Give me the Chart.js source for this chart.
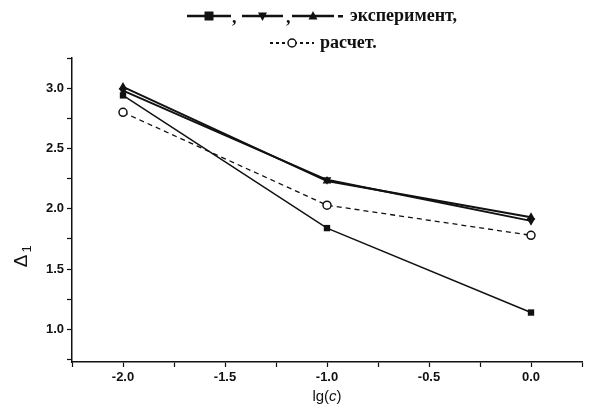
<!DOCTYPE html>
<html>
<head>
<meta charset="utf-8">
<script src="https://cdn.jsdelivr.net/npm/chart.js@4.4.1/dist/chart.umd.min.js"></script>
<style>
  html, body { margin: 0; padding: 0; background: #fff; }
  #wrap { width: 600px; height: 419px; position: relative; }
</style>
</head>
<body>
<div id="wrap"><canvas id="chart"></canvas></div>
<script>
// values
const lgC = [-2.0, -1.0, 0.0];
const squareVals = [2.94, 1.84, 1.14];
const downVals = [2.98, 2.24, 1.90];
const upVals = [3.01, 2.23, 1.93];
const calcVals = [2.80, 2.03, 1.78];

const xTickLabels = ['-2.0', '-1.5', '-1.0', '-0.5', '0.0'];
const yTickLabels = ['1.0', '1.5', '2.0', '2.5', '3.0'];
const legendText = ['эксперимент,', 'расчет.'];

const INK = '#111';

function pts(vals) {
    return lgC.map((x, i) => ({ x: x, y: vals[i] }));
}

// little marker helpers for the hand drawn legend
function marker(ctx, kind, x, y, r) {
    ctx.save();
    ctx.fillStyle = INK;
    ctx.strokeStyle = INK;
    ctx.lineWidth = 1.5;
    ctx.setLineDash([]);
    ctx.beginPath();
    if (kind === 'square') {
        ctx.rect(x - r, y - r, 2 * r, 2 * r);
        ctx.fill();
    } else if (kind === 'up' || kind === 'down') {
        const s = kind === 'up' ? 1 : -1;
        ctx.moveTo(x, y - s * r * 1.1);
        ctx.lineTo(x + r, y + s * r * 0.8);
        ctx.lineTo(x - r, y + s * r * 0.8);
        ctx.closePath();
        ctx.fill();
    } else {
        ctx.fillStyle = '#fff';
        ctx.arc(x, y, r, 0, Math.PI * 2);
        ctx.fill();
        ctx.stroke();
    }
    ctx.restore();
}

const extras = {
    id: 'extras',
    afterDraw(chart) {
        const ctx = chart.ctx;
        ctx.save();
        // legend, line 1
        const y1 = 16;
        const samples = [[187, 231, 'square', 2.5], [242, 283, 'down', 2.5], [292, 334, 'up', 2.5]];
        samples.forEach(s => {
            ctx.strokeStyle = INK;
            ctx.lineWidth = s[3];
            ctx.beginPath();
            ctx.moveTo(s[0], y1);
            ctx.lineTo(s[1], y1);
            ctx.stroke();
            marker(ctx, s[2], (s[0] + s[1]) / 2, y1, 4.5);
        });
        ctx.fillStyle = INK;
        ctx.font = 'bold 18px "Liberation Serif", serif';
        ctx.textBaseline = 'middle';
        ctx.fillText(',', 232, y1 + 2);
        ctx.fillText(',', 286, y1 + 2);
        ctx.fillRect(338, y1 - 1, 5, 2.5);
        ctx.fillText(legendText[0], 350, y1);
        // legend, line 2
        const y2 = 43;
        ctx.strokeStyle = INK;
        ctx.lineWidth = 2;
        ctx.setLineDash([3, 3]);
        ctx.beginPath();
        ctx.moveTo(270, y2);
        ctx.lineTo(314, y2);
        ctx.stroke();
        ctx.setLineDash([]);
        marker(ctx, 'circle', 292, y2, 4);
        ctx.fillText(legendText[1], 320, y2);

        // x axis title lg(c) with italic c
        const xs = chart.scales.x;
        const cx = (xs.left + xs.right) / 2;
        const ty = 397;
        const up = '15px "Liberation Sans", Arial, sans-serif';
        const it = 'italic 15px "Liberation Sans", Arial, sans-serif';
        ctx.textAlign = 'left';
        const a = 'lg(', b = 'c', c = ')';
        ctx.font = up;
        const wa = ctx.measureText(a).width;
        const wc = ctx.measureText(c).width;
        ctx.font = it;
        const wb = ctx.measureText(b).width;
        const px = cx - (wa + wb + wc) / 2;
        ctx.font = up;
        ctx.fillText(a, px, ty);
        ctx.font = it;
        ctx.fillText(b, px + wa, ty);
        ctx.font = up;
        ctx.fillText(c, px + wa + wb, ty);

        // y axis title Δ1, rotated
        ctx.translate(22, 258);
        ctx.rotate(-Math.PI / 2);
        ctx.font = '19px "Liberation Sans", Arial, sans-serif';
        ctx.textAlign = 'center';
        ctx.fillText('Δ', -3, 0);
        ctx.font = '13px "Liberation Sans", Arial, sans-serif';
        ctx.fillText('1', 9, 5);
        ctx.restore();
    }
};

const tickFont = { family: '"Liberation Sans", Arial, sans-serif', size: 13, weight: 'bold' };

new Chart(document.getElementById('chart'), {
    type: 'scatter',
    data: {
        datasets: [
            {
                label: 'square',
                data: pts(squareVals),
                showLine: true,
                borderColor: INK,
                backgroundColor: INK,
                borderWidth: 1.5,
                pointStyle: 'rect',
                pointRadius: 4.5,
                pointBorderWidth: 0
            },
            {
                label: 'down',
                data: pts(downVals),
                showLine: true,
                borderColor: INK,
                backgroundColor: INK,
                borderWidth: 2,
                pointStyle: 'triangle',
                rotation: 180,
                pointRadius: 5,
                pointBorderWidth: 0
            },
            {
                label: 'up',
                data: pts(upVals),
                showLine: true,
                borderColor: INK,
                backgroundColor: INK,
                borderWidth: 2,
                pointStyle: 'triangle',
                pointRadius: 5,
                pointBorderWidth: 0
            },
            {
                label: 'calc',
                data: pts(calcVals),
                showLine: true,
                borderColor: INK,
                backgroundColor: '#fff',
                borderWidth: 1.3,
                borderDash: [5, 4],
                pointStyle: 'circle',
                pointRadius: 4,
                pointBorderWidth: 1.5
            }
        ]
    },
    options: {
        responsive: true,
        maintainAspectRatio: false,
        animation: false,
        layout: { padding: { top: 58, right: 18, left: 0, bottom: 0 } },
        plugins: {
            legend: { display: false },
            tooltip: { enabled: false }
        },
        scales: {
            x: {
                type: 'linear',
                min: -2.25,
                max: 0.25,
                afterFit(scale) { scale.height = 57; },
                border: { color: INK, width: 1.5 },
                grid: { drawOnChartArea: false, tickLength: 5, color: INK, tickWidth: 1.2 },
                ticks: {
                    stepSize: 0.25,
                    includeBounds: false,
                    color: INK,
                    font: tickFont,
                    padding: 3,
                    maxRotation: 0,
                    autoSkip: false,
                    callback: v => {
                        const i = xTickLabels.indexOf(v.toFixed(1));
                        return Math.abs(v * 2 - Math.round(v * 2)) < 1e-6 && i >= 0 ? xTickLabels[i] : '';
                    }
                }
            },
            y: {
                min: 0.73,
                max: 3.25,
                afterFit(scale) { scale.width = 72; },
                border: { color: INK, width: 1.5 },
                grid: { drawOnChartArea: false, tickLength: 5, color: INK, tickWidth: 1.2 },
                ticks: {
                    stepSize: 0.25,
                    includeBounds: false,
                    color: INK,
                    font: tickFont,
                    padding: 3,
                    autoSkip: false,
                    callback: v => {
                        const i = yTickLabels.indexOf(v.toFixed(1));
                        return Math.abs(v * 2 - Math.round(v * 2)) < 1e-6 && i >= 0 ? yTickLabels[i] : '';
                    }
                }
            }
        }
    },
    plugins: [extras]
});
</script>
</body>
</html>
